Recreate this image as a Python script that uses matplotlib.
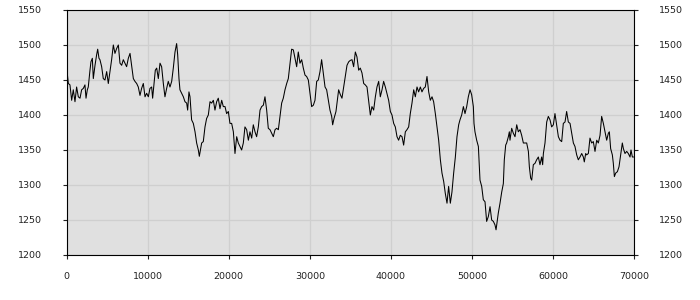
import matplotlib
matplotlib.use("Agg")
from matplotlib import pyplot as plt

# series (x in samples, y in value units)
x_vals = [
    0, 80, 210, 410, 620, 820, 1030, 1230, 1440, 1650, 1850, 2060, 2260, 2390,
    2550, 2670, 2880, 3000, 3170, 3290, 3500, 3700, 3830, 3990, 4110, 4320,
    4520, 4730, 4940, 5140, 5350, 5550, 5760, 5960, 6170, 6380, 6580, 6790,
    6990, 7200, 7400, 7610, 7820, 8020, 8230, 8430, 8640, 8840, 9050, 9250,
    9460, 9670, 9870, 10080, 10280, 10490, 10610, 10780, 10940, 11110, 11310,
    11520, 11720, 11930, 12130, 12340, 12540, 12750, 12960, 13160, 13370,
    13570, 13700, 13860, 13980, 14190, 14400, 14600, 14810, 14930, 15090,
    15220, 15420, 15630, 15840, 16040, 16250, 16370, 16660, 16860, 17070,
    17270, 17480, 17690, 17890, 18100, 18300, 18510, 18710, 18920, 19130,
    19330, 19540, 19740, 19950,
    20150, 20360, 20570, 20770, 20980, 21180, 21390, 21590, 21800, 22000,
    22210, 22420, 22620, 22830, 23030, 23240, 23440, 23650, 23860, 24060,
    24270, 24470, 24680, 24880, 25090, 25290, 25500, 25710, 25910, 26120,
    26320, 26530, 26730, 26940, 27150, 27350, 27560, 27760, 27970, 28170,
    28380, 28580, 28790, 29000, 29200, 29410, 29610, 29820, 30020, 30230,
    30440, 30640, 30850, 31050, 31260, 31460, 31670, 31880, 32080, 32290,
    32490, 32700, 32820, 32990, 33230, 33400, 33560, 33770, 33970, 34180,
    34380, 34590, 34800, 35000, 35210, 35410, 35620, 35820, 36030, 36230,
    36440, 36650, 36850, 37060, 37260, 37470, 37670, 37880, 38090, 38290,
    38500, 38700, 38910, 39110, 39320, 39520, 39730, 39940, 40140, 40350,
    40550, 40760, 40960, 41170, 41380, 41580, 41790, 41990, 42200, 42400,
    42610, 42820, 43020, 43230, 43430, 43640, 43840, 44050, 44250, 44460,
    44670, 44870, 45080, 45280, 45490, 45690, 45900, 46110, 46310, 46520,
    46720, 46930, 47130, 47340, 47540, 47750, 47960, 48160, 48370,
    48530, 48740, 48950, 49150, 49360, 49560, 49770, 49970, 50180, 50260,
    50380, 50590, 50800, 50920, 51000, 51210, 51410, 51620, 51740, 51820,
    52030, 52240, 52440, 52650, 52850, 52980, 53140, 53260, 53470, 53680,
    53880, 54000, 54170, 54290, 54500, 54620, 54700, 54910, 55110, 55320,
    55530, 55730, 55940, 56140, 56350, 56550, 56760, 56970, 57090, 57250,
    57380, 57580, 57790, 57990, 58200, 58400, 58610, 58730, 58820, 59020,
    59230, 59430, 59640, 59840, 60050, 60250, 60460, 60670, 60870, 61080,
    61280, 61490, 61690, 61900, 62110, 62310, 62520, 62720, 62930, 63130,
    63340, 63550, 63750, 63870, 64040, 64160, 64370, 64570, 64780, 64980,
    65190, 65400, 65600, 65810, 66010, 66220, 66420, 66630, 66840, 66960,
    67120, 67330, 67450, 67580, 67740, 67950, 68150, 68360, 68560, 68690,
    68890, 69100, 69300, 69510, 69630, 69800, 69920,
]
y_vals = [
    1452, 1459, 1445, 1443, 1421, 1436, 1419, 1440, 1426, 1424, 1436, 1438,
    1443, 1424, 1436, 1440, 1464, 1476, 1481, 1452, 1471, 1486, 1494, 1481,
    1479, 1469, 1452, 1450, 1462, 1445, 1462, 1479, 1500, 1488, 1495, 1500,
    1474, 1471, 1479, 1474, 1469, 1481, 1488, 1471, 1452, 1448, 1445, 1440,
    1428, 1438, 1445, 1426, 1431, 1426, 1438, 1440, 1424, 1445, 1464, 1467,
    1452, 1474, 1469, 1445, 1426, 1438, 1448, 1440, 1448, 1467, 1490, 1502,
    1486, 1452, 1436, 1431, 1426, 1419, 1417, 1407, 1433, 1426, 1393, 1388,
    1376, 1360, 1350, 1341, 1360, 1362, 1383, 1395, 1400, 1419, 1417, 1421,
    1407, 1419, 1424, 1409, 1421, 1412, 1412, 1402, 1405,
    1388, 1388, 1376, 1345, 1369, 1360, 1355, 1350, 1360, 1383, 1379, 1364,
    1376, 1367, 1386, 1376, 1369, 1383, 1407, 1412, 1414, 1426, 1407, 1381,
    1379, 1374, 1369, 1379, 1381, 1379, 1398, 1417, 1424, 1436, 1445, 1452,
    1474, 1494, 1493, 1481, 1469, 1490, 1474, 1479, 1467, 1457, 1455, 1450,
    1431, 1412, 1414, 1421, 1448, 1450, 1462, 1479, 1460, 1440, 1436, 1421,
    1407, 1398, 1386, 1395, 1405, 1421, 1436, 1429, 1424, 1440, 1455, 1471,
    1476, 1478, 1479, 1469, 1490, 1483, 1464, 1467, 1460, 1445, 1443, 1440,
    1421, 1400, 1412, 1407, 1426, 1440, 1448, 1426, 1436, 1448, 1440, 1431,
    1421, 1405, 1400, 1388, 1383, 1369, 1364, 1371, 1369, 1357, 1376, 1379,
    1383, 1402, 1417, 1436, 1426, 1440, 1433, 1440, 1433, 1438, 1440, 1455,
    1433, 1421, 1426, 1419, 1402, 1383, 1364, 1336, 1317, 1305, 1288, 1274,
    1298, 1274, 1290, 1317, 1340, 1369, 1386,
    1393, 1400, 1412, 1402, 1412, 1426, 1436, 1429, 1412, 1388, 1376, 1364,
    1355, 1326, 1307, 1298, 1279, 1276, 1260, 1248, 1255, 1269, 1250, 1248,
    1243, 1236, 1250, 1260, 1274, 1290, 1302, 1336, 1357, 1360, 1369, 1376,
    1364, 1381, 1374, 1369, 1386, 1376, 1379, 1371, 1360, 1360, 1360, 1348,
    1326, 1310, 1307, 1329, 1331, 1336, 1340, 1329, 1340, 1329, 1345, 1360,
    1390, 1398, 1393, 1383, 1386, 1402, 1386, 1369, 1364, 1362, 1388, 1390,
    1405, 1390, 1388, 1374, 1360, 1355, 1343, 1336, 1340, 1345, 1340, 1333,
    1345, 1343, 1345, 1367, 1360, 1362, 1348, 1364, 1360, 1371, 1398, 1388,
    1376, 1364, 1374, 1376, 1352, 1343, 1331, 1312, 1317, 1319, 1326, 1343,
    1360, 1352, 1345, 1348, 1345, 1340, 1350, 1340, 1340,
]

x_ticks = [0, 10000, 20000, 30000, 40000, 50000, 60000, 70000]
y_ticks = [1200, 1250, 1300, 1350, 1400, 1450, 1500, 1550]

fig = plt.figure(figsize=(7, 3), dpi=100)
ax = fig.add_axes([0.0952, 0.15, 0.9057 - 0.0952, 0.9667 - 0.15])
ax.set_facecolor("#e0e0e0")
ax.plot(x_vals, y_vals, color="black", linewidth=0.75)

ax.set_xlim(0, 70000)
ax.set_ylim(1200, 1550)
ax.set_xticks(x_ticks)
ax.set_yticks(y_ticks)
ax.grid(True, color="#cfcfcf", linewidth=0.9)
ax.set_axisbelow(True)

for s in ax.spines.values():
    s.set_color("black")
    s.set_linewidth(0.8)

ax.tick_params(axis="x", direction="out", length=3, width=0.8,
               pad=9, labelsize=6.8, colors="#222222")
ax.tick_params(axis="y", direction="out", length=3, width=0.8,
               pad=15, labelsize=6.8, colors="#222222",
               left=True, right=True, labelleft=True, labelright=True)

fig.savefig("out.png", dpi=100)
